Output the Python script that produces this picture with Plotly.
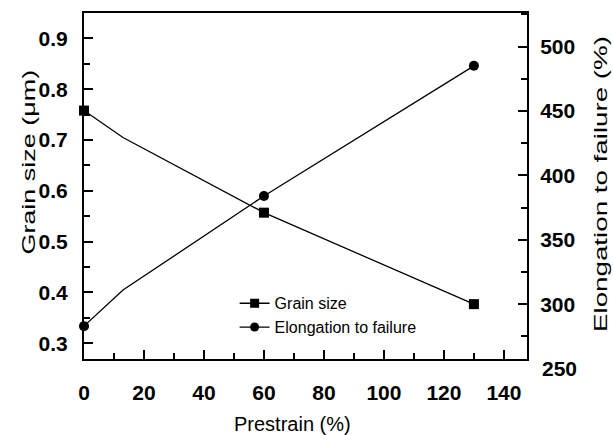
import plotly.graph_objects as go

prestrain = [0, 13, 60, 130]
grain_size = [0.758, 0.705, 0.557, 0.377]
elongation = [283, 311, 384, 485]
marked = [True, False, True, True]

x_ticks = [0, 20, 40, 60, 80, 100, 120, 140]
left_ticks = [0.3, 0.4, 0.5, 0.6, 0.7, 0.8, 0.9]
right_ticks = [300, 350, 400, 450, 500]
right_extra_label = 250

x_range = [0, 147.7]
left_range = [0.269, 0.95]
right_range = [257.5, 526]

FONT = "Liberation Sans, Arial, sans-serif"

mx = [x for x, m in zip(prestrain, marked) if m]
mg = [y for y, m in zip(grain_size, marked) if m]
me = [y for y, m in zip(elongation, marked) if m]

fig = go.Figure()
fig.add_trace(go.Scatter(x=prestrain, y=grain_size, mode="lines",
                         line=dict(color="black", width=1.3), showlegend=False,
                         cliponaxis=False, hoverinfo="skip"))
fig.add_trace(go.Scatter(x=prestrain, y=elongation, mode="lines", yaxis="y2",
                         line=dict(color="black", width=1.3), showlegend=False,
                         cliponaxis=False, hoverinfo="skip"))
fig.add_trace(go.Scatter(x=mx, y=mg, mode="markers",
                         marker=dict(symbol="square", size=10, color="black"),
                         showlegend=False, cliponaxis=False))
fig.add_trace(go.Scatter(x=mx, y=me, mode="markers", yaxis="y2",
                         marker=dict(symbol="circle", size=10, color="black"),
                         showlegend=False, cliponaxis=False))
fig.add_trace(go.Scatter(x=[None], y=[None], mode="lines+markers", name="Grain size",
                         line=dict(color="black", width=1.3),
                         marker=dict(symbol="square", size=9, color="black")))
fig.add_trace(go.Scatter(x=[None], y=[None], mode="lines+markers", name="Elongation to failure",
                         yaxis="y2", line=dict(color="black", width=1.3),
                         marker=dict(symbol="circle", size=9, color="black")))

tickfont = dict(family=FONT, size=21, color="black", weight="bold")
titlefont = dict(family=FONT, size=20, color="black")
ytitlefont = dict(family=FONT, size=19, color="black")

y250 = (right_extra_label - right_range[0]) / (right_range[1] - right_range[0])

fig.update_layout(
    width=613, height=435,
    margin=dict(l=84, r=86, t=13, b=76),
    plot_bgcolor="white", paper_bgcolor="white",
    font=dict(family=FONT, color="black"),
    xaxis=dict(range=x_range, tickvals=x_ticks, ticks="inside", ticklen=9, tickwidth=2,
               tickcolor="black", showline=True, linecolor="black", linewidth=2, mirror=True,
               showgrid=False, zeroline=False, tickfont=tickfont, ticklabelstandoff=14,
               automargin=False,
               minor=dict(dtick=10, tick0=0, ticks="inside", ticklen=6, tickwidth=2,
                          tickcolor="black", showgrid=False)),
    yaxis=dict(range=left_range, tickvals=left_ticks, tickformat=".1f", ticks="inside",
               ticklen=9, tickwidth=2, tickcolor="black", showline=True, linecolor="black",
               linewidth=2, showgrid=False, zeroline=False, tickfont=tickfont,
               ticklabelstandoff=10, automargin=False,
               minor=dict(dtick=0.05, tick0=0.3, ticks="inside", ticklen=6, tickwidth=2,
                          tickcolor="black", showgrid=False)),
    yaxis2=dict(range=right_range, tickvals=right_ticks, overlaying="y", side="right",
                ticks="inside", ticklen=9, tickwidth=2, tickcolor="black", showline=True,
                linecolor="black", linewidth=2, showgrid=False, zeroline=False,
                tickfont=tickfont, automargin=False, ticklabelstandoff=7,
                minor=dict(dtick=25, tick0=250, ticks="inside", ticklen=6, tickwidth=2,
                           tickcolor="black", showgrid=False)),
    legend=dict(x=0.34, y=0.21, xanchor="left", yanchor="top", bgcolor="rgba(0,0,0,0)",
                font=dict(family=FONT, size=16, color="black"), tracegroupgap=0),
    annotations=[
        dict(text="Grain size (μm)", xref="paper", yref="paper", x=-0.126, y=0.569,
             xanchor="center", yanchor="middle",
             textangle=-90, showarrow=False, font=ytitlefont),
        dict(text="Elongation to failure (%)", xref="paper", yref="paper", x=1.168, y=0.506,
             xanchor="center", yanchor="middle",
             textangle=-90, showarrow=False, font=ytitlefont),
        dict(text="Prestrain (%)", xref="paper", yref="paper", x=0.471, y=-0.188,
             xanchor="center", yanchor="middle", showarrow=False, font=titlefont),
        dict(text=str(right_extra_label), xref="paper", yref="paper", x=1.029, y=y250,
             xanchor="left", yanchor="middle", showarrow=False, font=tickfont),
    ],
)

post = """
document.body.style.margin='0px';
var gd = document.getElementById('{plot_id}');
function stretch(){
  [[0,1.42],[1,1.46]].forEach(function(p){
    var g = gd.querySelector('g.annotation[data-index="'+p[0]+'"]');
    if(!g) return;
    g.removeAttribute('transform');
    var b = g.getBBox(); var cy = b.y + b.height/2;
    g.setAttribute('transform','translate(0,'+cy+') scale(1,'+p[1]+') translate(0,'+(-cy)+')');
  });
}
stretch();
gd.on && gd.on('plotly_afterplot', stretch);
"""

fig.write_html("out.html", post_script=post, config={"displayModeBar": False})
